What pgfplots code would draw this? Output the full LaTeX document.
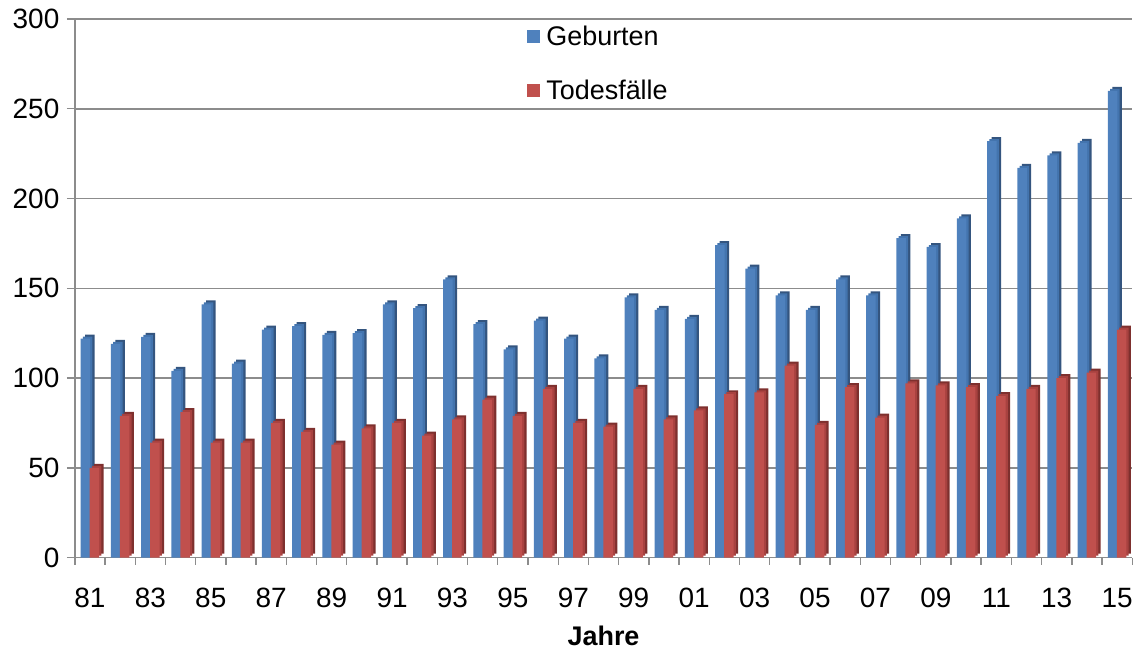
\documentclass[border=0pt]{standalone}
\usepackage{pgfplots}
\pgfplotsset{compat=1.18}
\usepackage{pgfplotstable}
\usepackage{fontspec}
\setmainfont{Liberation Sans}
\definecolor{bfront}{HTML}{4F81BD}
\definecolor{btop}{HTML}{4374AE}
\definecolor{bside}{HTML}{34557F}
\definecolor{rfront}{HTML}{C0504D}
\definecolor{rtop}{HTML}{A84240}
\definecolor{rside}{HTML}{7E302E}
\definecolor{gridc}{HTML}{8C8C8C}
\pgfplotstableread{
x b t
0 122 50
1 119 79
2 123 64
3 104 81
4 141 64
5 108 64
6 127 75
7 129 70
8 124 63
9 125 72
10 141 75
11 139 68
12 155 77
13 130 88
14 116 79
15 132 94
16 122 75
17 111 73
18 145 94
19 138 77
20 133 82
21 174 91
22 161 92
23 146 107
24 138 74
25 155 95
26 146 78
27 178 97
28 173 96
29 189 95
30 232 90
31 217 94
32 224 100
33 231 103
34 260 127
}\data
\begin{document}
\begin{tikzpicture}
\begin{axis}[name=ax,
  scale only axis, width=1060pt, height=540pt,
  xmin=-0.5, xmax=34.5, ymin=0, ymax=300,
  axis lines=left, axis line style={gridc, line width=1.6pt, -},
  ytick={0,50,...,300}, ymajorgrids, grid style={gridc, line width=1.6pt},
  xtick={0,2,...,34},
  xticklabels={81,83,85,87,89,91,93,95,97,99,01,03,05,07,09,11,13,15},
  minor xtick={-0.5,0.5,...,34.5},
  major tick length=8pt, minor tick length=7pt,
  xtick style={draw=none}, minor x tick style={draw=gridc, line width=1.4pt},
  ytick style={gridc, line width=1.4pt},
  tick align=outside,
  ticklabel style={font=\fontsize{28}{32}\selectfont},
  /pgf/number format/assume math mode=true,
  xticklabel style={anchor=north, text height=20pt, text depth=0pt, yshift=-18pt},
  yticklabel style={xshift=-4pt},
  xlabel={\textbf{Jahre}}, xlabel style={font=\fontsize{27}{30}\selectfont, yshift=-12pt},
  ybar=0pt, bar width=9.5pt,
  legend style={draw=none, fill=none, at={(0.425,0.995)}, anchor=north west,
    font=\fontsize{27}{30}\selectfont, row sep=29pt, legend cell align=left,
    nodes={inner xsep=6pt}},
  clip=false,
]
\addplot[fill=bside, draw=none, bar shift=-4.5pt, xshift=4.5pt, yshift=4pt, forget plot] table[x=x,y=b]{\data};
\addplot[fill=btop, draw=none, bar shift=-4.5pt, xshift=2.25pt, yshift=2pt, forget plot] table[x=x,y=b]{\data};
\addplot[fill=bfront, draw=none, bar shift=-4.5pt,
  legend image code/.code={\fill[bfront] (0pt,-6.5pt) rectangle (13pt,6.5pt);}] table[x=x,y=b]{\data};
\addplot[fill=rside, draw=none, bar shift=4.5pt, xshift=4.5pt, yshift=4pt, forget plot] table[x=x,y=t]{\data};
\addplot[fill=rtop, draw=none, bar shift=4.5pt, xshift=2.25pt, yshift=2pt, forget plot] table[x=x,y=t]{\data};
\addplot[fill=rfront, draw=none, bar shift=4.5pt,
  legend image code/.code={\fill[rfront] (0pt,-6.5pt) rectangle (13pt,6.5pt);}] table[x=x,y=t]{\data};
\legend{Geburten,Todesfälle}
\end{axis}
\path (ax.south west) ++(-75pt,-90pt) rectangle ++(1136pt,649pt);
\end{tikzpicture}
\end{document}
